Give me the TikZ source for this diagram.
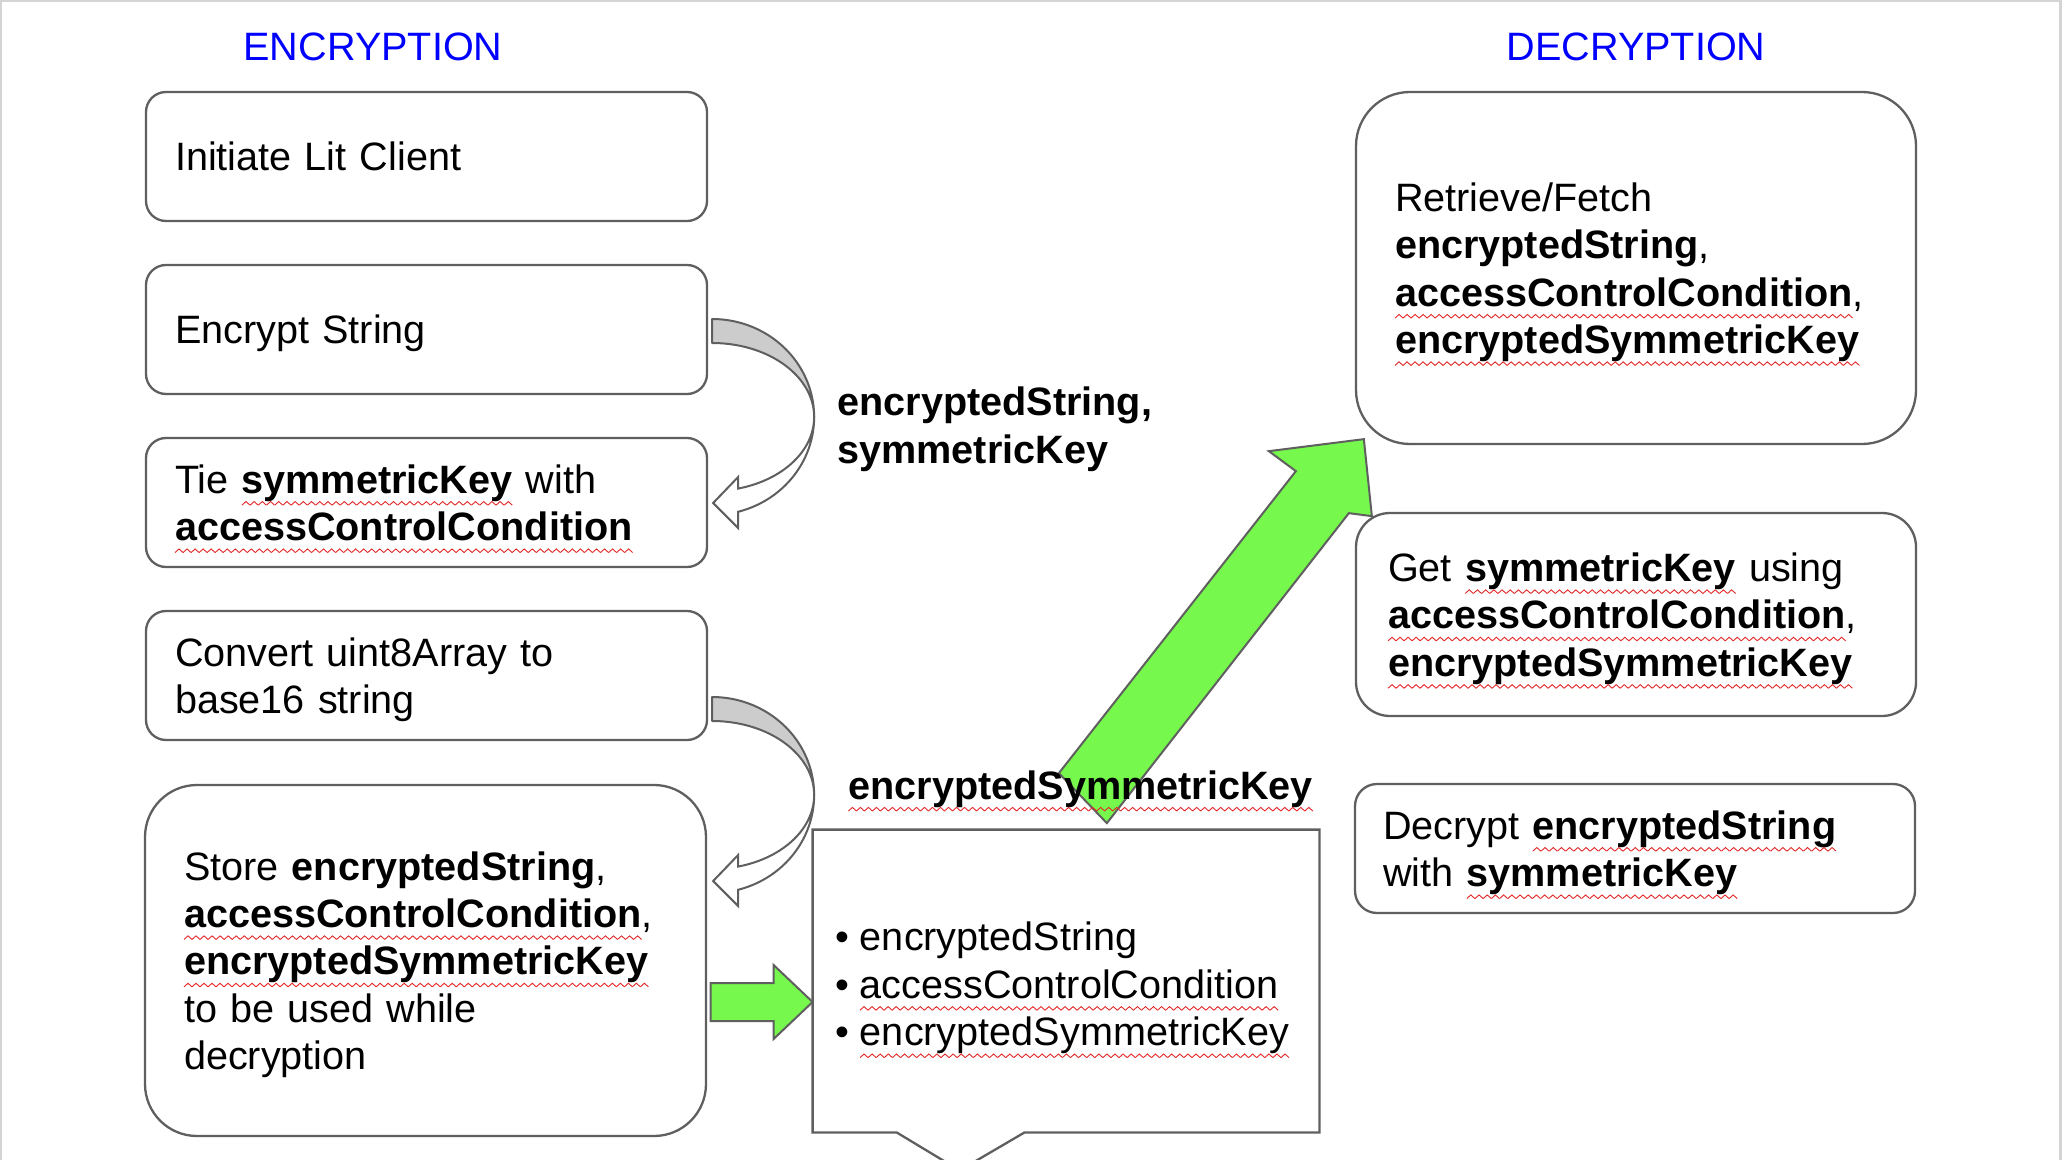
\documentclass[tikz,border=0pt]{standalone}
\usepackage{fontspec}
\setmainfont{Liberation Sans}
\usetikzlibrary{calc}
\definecolor{edge}{RGB}{95,95,95}
\definecolor{grn}{RGB}{118,248,76}
\definecolor{crs}{RGB}{204,204,204}
\definecolor{ttl}{RGB}{0,0,255}
\definecolor{sqred}{RGB}{228,40,40}
\definecolor{frm}{RGB}{212,212,212}
\newsavebox\zzunit
\newsavebox\sqword
\AtBeginDocument{\sbox\zzunit{\begin{pgfpicture}\pgfsetlinewidth{0.45pt}\pgfsetstrokecolor{sqred}\pgfpathmoveto{\pgfpoint{0pt}{0pt}}\pgfpathlineto{\pgfpoint{2pt}{1.8pt}}\pgfpathlineto{\pgfpoint{4pt}{0pt}}\pgfusepath{stroke}\pgfresetboundingbox\pgfpathrectangle{\pgfpointorigin}{\pgfpoint{4pt}{1.8pt}}\pgfusepath{use as bounding box}\end{pgfpicture}}}
\newcommand\sq[1]{\sbox\sqword{#1}\leavevmode\rlap{\usebox\sqword}\raisebox{-6pt}[0pt][0pt]{\hbox to\wd\sqword{\xleaders\copy\zzunit\hfil}}}
\newcommand\nd[1]{\raisebox{0pt}[\height][0pt]{#1}}
\pgfdeclarelayer{bg}
\pgfsetlayers{bg,main}
\tikzset{
  curvarr/.pic={
    \filldraw[fill=crs, draw=edge, line width=1pt, line join=round]
      plot[domain=-90:0, samples=40] ({102*cos(\x)},{86+98*sin(\x)})
      -- plot[domain=0:-90, samples=40] ({102*cos(\x)},{86+74*sin(\x)}) -- cycle;
    \filldraw[fill=white, draw=edge, line width=1pt, line join=miter]
      plot[domain=0:75.2, samples=40] ({102*cos(\x)},{86+98*sin(\x)})
      -- (26,197) -- (1,172) -- (26,146)
      -- plot[domain=75.2:0, samples=40] ({102*cos(\x)},{86+74*sin(\x)}) -- cycle;
  }
}
\begin{document}
\begin{tikzpicture}[x=0.5pt,y=-0.5pt,
  font=\fontsize{19.8}{23.7}\selectfont,
  box/.style={draw=edge, line width=1.15pt, fill=white, align=left, inner ysep=0pt},
  small/.style={box, minimum width=280.5pt, minimum height=64.5pt, text width=251.5pt, inner xsep=14.5pt, rounded corners=10pt},
  title/.style={text=ttl, anchor=base, inner sep=0pt},
  garrow/.style={fill=grn, draw=edge, line width=1pt, line join=miter}]
\useasboundingbox (0,0) rectangle (2064,1160);
\clip (0,0) rectangle (2064,1160);

% titles
\node[title] (t1) at (373,60.5) {ENCRYPTION};
\node[title] (t2) at (1636,60.5) {DECRYPTION};

% encryption column
\node[small] (b1) at (426.5,156.5) {Initiate Lit Client};
\node[small] (b2) at (426.5,329.5) {\nd{Encrypt String}};
\node[small] (b3) at (426.5,502.5) {Tie \sq{\textbf{symmetricKey}} with\\\nd{\sq{\textbf{accessControlCondition}}}};
\node[small] (b4) at (426.5,675.5) {Convert uint8Array to\\\nd{base16 string}};
\node[box, minimum width=280.5pt, minimum height=175.5pt, text width=241.5pt, inner xsep=19.5pt, rounded corners=26pt] (b5) at (425.5,960.5)
  {Store \textbf{encryptedString},\\\sq{\textbf{accessControlCondition}},\\\sq{\textbf{encryptedSymmetricKey}}\\to be used while\\\nd{decryption}};

% decryption column
\node[box, minimum width=280pt, minimum height=176pt, text width=241pt, inner xsep=19.5pt, rounded corners=27pt] (ret) at (1636,268)
  {Retrieve/Fetch\\\textbf{encryptedString},\\\sq{\textbf{accessControlCondition}},\\\nd{\sq{\textbf{encryptedSymmetricKey}}}};
\node[box, minimum width=280pt, minimum height=101.5pt, text width=248pt, inner xsep=16pt, rounded corners=17pt] (get) at (1636,614.5)
  {Get \sq{\textbf{symmetricKey}} using\\\sq{\textbf{accessControlCondition}},\\\nd{\sq{\textbf{encryptedSymmetricKey}}}};
\node[box, minimum width=280pt, minimum height=64.5pt, text width=252pt, inner xsep=14pt, rounded corners=11pt] (dec) at (1635,848.5)
  {Decrypt \sq{\textbf{encryptedString}}\\\nd{with \sq{\textbf{symmetricKey}}}};

% callout
\node[align=left, minimum width=253pt, minimum height=151pt, text width=230.6pt, inner xsep=11.2pt, inner ysep=0pt] (co) at (1066,981)
  {\rule{0pt}{17.2pt}•\hspace{0.27em}encryptedString\\•\hspace{0.27em}\sq{accessControlCondition}\\\nd{•\hspace{0.27em}\sq{encryptedSymmetricKey}}};
\draw[draw=edge, line width=1.15pt, line join=miter]
  (co.north west) -- (co.north east) -- (co.south east)
  -- ($(co.south west)+(212,0)$) -- ($(co.south west)+(147,38)$) -- ($(co.south west)+(84,0)$)
  -- (co.south west) -- cycle;

% labels
\node[anchor=base west, inner sep=0pt, align=left] (lab1) at (837,463) {\textbf{encryptedString,}\\\textbf{symmetricKey}};
\node[anchor=base west, inner sep=0pt] (lab2) at (848,799) {\sq{\textbf{encryptedSymmetricKey}}};

% curved arrows
\pic at ($(b2.east)+(4,1.5)$) {curvarr};
\pic at ($(b4.east)+(4,33.5)$) {curvarr};

% green arrows and frame (background)
\coordinate (gt) at ($(co.west)+(0,21)$);
\coordinate (rt) at (ret.south west);
\begin{pgfonlayer}{bg}
  \draw[frm, line width=1.2pt] (1,1200) -- (1,1) -- (2060.5,1) -- (2060.5,1200);
  \begin{scope}[shift={(gt)}]
    \filldraw[garrow] (-102,-19) -- (-39,-19) -- (-39,-37) -- (0,0) -- (-39,37) -- (-39,19) -- (-102,19) -- cycle;
  \end{scope}
  \begin{scope}[shift={(rt)}]
    \filldraw[garrow] (-296,328) -- (-59,26) -- (-86,6) -- (9,-6) -- (17,71) -- (-6,68) -- (-248,378) -- cycle;
  \end{scope}
\end{pgfonlayer}
\end{tikzpicture}
\end{document}
